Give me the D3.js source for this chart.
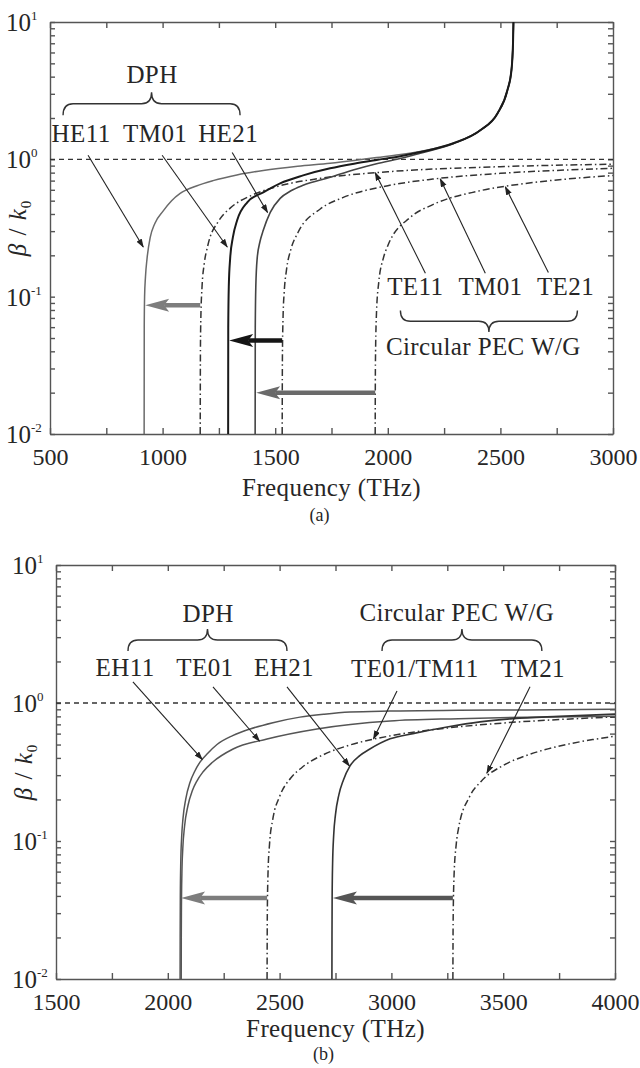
<!DOCTYPE html>
<html>
<head>
<meta charset="utf-8">
<script src="https://cdn.jsdelivr.net/npm/d3@7"></script>
<style>
body { margin: 0; background: #fff; }
text { font-family: "Liberation Serif", "DejaVu Serif", serif; fill: #262626; }
</style>
</head>
<body>
<svg id="chart" width="640" height="1068"></svg>
<script>
// ---- panel (a) : frequency (THz), beta/k0 ----
const dphHE11 = [[918,0.01],[918.5,0.06],[920,0.1],[924,0.14],[931,0.19],[945,0.27],[965,0.34],[1002,0.42],[1040,0.5],[1078,0.565],[1150,0.64],[1224,0.7],[1330,0.77],[1447,0.83],[1600,0.89],[1744,0.935],[1850,0.98],[1950,1.03],[2050,1.08],[2144,1.14],[2291,1.31],[2411,1.63],[2487,2.16],[2531,3.18],[2549,4.45],[2556,7],[2558,10]];
const dphTM01 = [[1291,0.01],[1291.5,0.06],[1294,0.12],[1300,0.19],[1312,0.27],[1331,0.36],[1376,0.486],[1447,0.575],[1522,0.669],[1624,0.764],[1744,0.86],[1850,0.93],[1950,0.99],[2050,1.05],[2144,1.13],[2291,1.31],[2411,1.63],[2487,2.16],[2531,3.18],[2549,4.45],[2556,7],[2558,10]];
const dphHE21 = [[1411,0.01],[1411.5,0.06],[1414,0.12],[1420,0.19],[1432,0.25],[1447,0.304],[1478,0.411],[1522,0.52],[1570,0.59],[1624,0.647],[1744,0.74],[1850,0.84],[1950,0.93],[2050,1.01],[2144,1.11],[2291,1.3],[2411,1.63],[2487,2.16],[2531,3.18],[2549,4.45],[2556,7],[2558,10]];
const pecTE11 = [[1167,0.01],[1168,0.041],[1170,0.072],[1175,0.117],[1185,0.174],[1200,0.233],[1250,0.358],[1300,0.441],[1400,0.551],[1500,0.628],[1700,0.727],[2000,0.812],[2500,0.884],[3000,0.921]];
const pecTM01 = [[1531,0.01],[1532,0.036],[1535,0.072],[1540,0.108],[1550,0.156],[1570,0.222],[1600,0.291],[1700,0.435],[1800,0.526],[2000,0.643],[2200,0.718],[2500,0.791],[2800,0.837],[3000,0.86]];
const pecTE21 = [[1944,0.01],[1945,0.032],[1950,0.078],[1960,0.128],[1980,0.19],[2000,0.235],[2100,0.378],[2200,0.468],[2400,0.586],[2600,0.664],[2800,0.72],[3000,0.762]];

// ---- panel (b) ----
const dphEH11 = [[2055,0.01],[2055.3,0.02],[2056,0.04],[2058,0.07],[2062,0.107],[2068,0.146],[2080,0.2],[2100,0.268],[2120,0.319],[2144,0.373],[2180,0.434],[2220,0.5],[2290,0.58],[2368,0.648],[2470,0.72],[2591,0.79],[2700,0.83],[2815,0.86],[2994,0.875],[3300,0.885],[3600,0.89],[4000,0.9]];
const dphTE01 = [[2060,0.01],[2060.3,0.02],[2061,0.033],[2063,0.058],[2067,0.088],[2075,0.128],[2090,0.18],[2110,0.232],[2130,0.272],[2157,0.316],[2200,0.372],[2292,0.464],[2444,0.548],[2667,0.648],[2994,0.74],[3300,0.77],[3600,0.79],[4000,0.8]];
const dphEH21 = [[2734,0.01],[2734.3,0.02],[2735,0.039],[2737,0.068],[2742,0.111],[2750,0.156],[2765,0.216],[2785,0.276],[2815,0.35],[2860,0.417],[2900,0.46],[2994,0.55],[3096,0.6],[3249,0.67],[3396,0.73],[3544,0.77],[3750,0.8],[4000,0.83]];
const pecTE01TM11 = [[2444,0.01],[2445,0.029],[2448,0.057],[2455,0.095],[2470,0.145],[2500,0.21],[2550,0.286],[2600,0.341],[2700,0.425],[2800,0.488],[3000,0.58],[3250,0.659],[3500,0.716],[3750,0.759],[4000,0.792]];
const pecTM21 = [[3275,0.01],[3276,0.025],[3280,0.055],[3290,0.095],[3300,0.123],[3350,0.21],[3400,0.269],[3500,0.353],[3600,0.415],[3700,0.465],[3800,0.507],[3900,0.543],[4000,0.574]];

const xTicksA = [500, 1000, 1500, 2000, 2500, 3000];
const xTicksB = [1500, 2000, 2500, 3000, 3500, 4000];
const yTickExps = [-2, -1, 0, 1];

// annotations in data units [freq, beta]
const pointersA = [
  [[669,1.07],[914,0.23]], [[998,1.07],[1287,0.23]], [[1309,1.12],[1466,0.41]],
  [[2167,0.148],[1944,0.8]], [[2433,0.148],[2233,0.72]], [[2713,0.15],[2522,0.63]]
];
const pointersB = [
  [[1844,1.42],[2154,0.39]], [[2202,1.31],[2410,0.53]], [[2533,1.31],[2812,0.35]],
  [[3025,1.22],[2920,0.55]], [[3620,1.31],[3427,0.31]]
];
// cutoff shift arrows: from PEC cutoff to DPH cutoff at beta
const shiftsA = [[1167,918,0.0865,"#7d7d7d"],[1531,1291,0.048,"#151515"],[1944,1411,0.02,"#6a6a6a"]];
const shiftsB = [[2444,2055,0.0386,"#7d7d7d"],[3275,2734,0.0386,"#555"]];
const labelsA = [["DPH",953,3.58],["HE11",638,1.33],["TM01",967,1.33],["HE21",1291,1.33],
  ["TE11",2122,0.1025],["TM01",2456,0.1025],["TE21",2789,0.1025],["Circular PEC W/G",2424,0.0373]];
const labelsB = [["DPH",2180,3.86],["EH11",1809,1.57],["TE01",2166,1.57],["EH21",2520,1.57],
  ["Circular PEC W/G",3293,3.93],["TE01/TM11",3105,1.54],["TM21",3633,1.54]];
// braces: [f1, f2, betaEnds, betaTip]
const bracesA = [[558,1344,2.09,3.08],[2056,2842,0.0794,0.0552]];
const bracesB = [[1822,2533,2.38,3.44],[2958,3673,2.38,3.44]];

const svg = d3.select("#chart");

const defs = svg.append("defs");
defs.append("marker").attr("id","tip").attr("markerUnits","userSpaceOnUse")
  .attr("markerWidth",9).attr("markerHeight",7).attr("refX",8).attr("refY",3)
  .attr("orient","auto")
  .append("path").attr("d","M0,0L9,3L0,6Z").attr("fill","#222");

function drawPanel(p) {
  const x = d3.scaleLinear().domain(p.xDomain).range([p.left, p.right]);
  const y = d3.scaleLog().domain([0.01, 10]).range([p.bottom, p.top]);
  const g = svg.append("g");

  defs.append("clipPath").attr("id", p.id + "clip")
    .append("rect").attr("x", p.left).attr("y", p.top)
    .attr("width", p.right - p.left).attr("height", p.bottom - p.top);

  const minor = [];
  for (let e = -2; e < 1; e++) for (let m = 1; m < 10; m++) minor.push(m * Math.pow(10, e));
  minor.push(10);
  const xMinor = d3.range(p.xDomain[0], p.xDomain[1] + 1, 250);

  const axStyle = sel => {
    sel.selectAll("path,line").attr("stroke", "#555").attr("stroke-width", 1.4);
  };
  g.append("g").attr("transform", `translate(0,${p.bottom})`)
    .call(d3.axisBottom(x).tickValues(xMinor).tickSizeInner(-6).tickSizeOuter(0).tickPadding(14)
      .tickFormat(d => p.xTicks.includes(d) ? d : ""))
    .call(axStyle)
    .call(s => s.selectAll("text").attr("font-size", 24).attr("font-family", "Liberation Serif").attr("fill", "#262626"));
  g.append("g").attr("transform", `translate(0,${p.top})`)
    .call(d3.axisTop(x).tickValues(xMinor).tickSizeInner(-6).tickSizeOuter(0).tickFormat(""))
    .call(axStyle);
  g.append("g").attr("transform", `translate(${p.left},0)`)
    .call(d3.axisLeft(y).tickValues(minor).tickSizeInner(-5).tickSizeOuter(0).tickFormat(""))
    .call(axStyle);
  g.append("g").attr("transform", `translate(${p.right},0)`)
    .call(d3.axisRight(y).tickValues(minor).tickSizeInner(-5).tickSizeOuter(0).tickFormat(""))
    .call(axStyle);

  // y tick labels 10^n
  yTickExps.forEach(e => {
    const t = g.append("text").attr("x", p.left - 44).attr("y", y(Math.pow(10, e)) + 9)
      .attr("font-size", 25);
    t.append("tspan").text("10");
    t.append("tspan").attr("dy", -11).attr("font-size", 13).text(e);
  });

  // axis titles
  g.append("text").attr("x", (p.left + p.right) / 2).attr("y", p.bottom + p.titleDy)
    .attr("text-anchor", "middle").attr("font-size", 25).attr("letter-spacing", 0.4).text("Frequency (THz)");
  g.append("text").attr("x", (p.left + p.right) / 2 - 12).attr("y", p.bottom + p.tagDy)
    .attr("text-anchor", "middle").attr("font-size", 18).text(p.tag);
  const yl = g.append("text").attr("transform", `translate(${p.left - 24},${(p.top + p.bottom) / 2}) rotate(-90)`)
    .attr("text-anchor", "middle").attr("font-size", 25).attr("letter-spacing", 1);
  yl.append("tspan").attr("font-style", "italic").text("β");
  yl.append("tspan").text(" / ");
  yl.append("tspan").attr("font-style", "italic").text("k");
  yl.append("tspan").attr("dy", 5).attr("font-size", 15).text("0");

  const plot = g.append("g").attr("clip-path", `url(#${p.id}clip)`);

  // reference line beta/k0 = 1
  plot.append("line").attr("x1", x(p.xDomain[0])).attr("x2", x(p.xDomain[1]))
    .attr("y1", y(1)).attr("y2", y(1))
    .attr("stroke", "#333").attr("stroke-width", 1.3).attr("stroke-dasharray", "5,4");

  const line = d3.line().x(d => x(d[0])).y(d => y(d[1])).curve(d3.curveMonotoneX);
  p.series.forEach(s => {
    plot.append("path").datum(s.data).attr("d", line).attr("fill", "none")
      .attr("stroke", s.color).attr("stroke-width", s.width)
      .attr("stroke-dasharray", s.dash ? "7,3,1.5,3" : null);
  });

  // cutoff shift arrows
  p.shifts.forEach(([f0, f1, b, col]) => {
    const x0 = x(f0), x1 = x(f1), yy = y(b);
    g.append("line").attr("x1", x0).attr("x2", x1 + 20).attr("y1", yy).attr("y2", yy)
      .attr("stroke", col).attr("stroke-width", 4.5);
    g.append("path").attr("d", `M${x1 + 1},${yy}L${x1 + 25},${yy - 6.5}L${x1 + 20},${yy}L${x1 + 25},${yy + 6.5}Z`)
      .attr("fill", col);
  });

  // pointers
  p.pointers.forEach(([a, b]) => {
    g.append("line").attr("x1", x(a[0])).attr("y1", y(a[1])).attr("x2", x(b[0])).attr("y2", y(b[1]))
      .attr("stroke", "#222").attr("stroke-width", 1.1).attr("marker-end", "url(#tip)");
  });

  // labels
  p.labels.forEach(([t, f, b]) => {
    g.append("text").attr("x", x(f)).attr("y", y(b)).attr("text-anchor", "middle")
      .attr("font-size", 25).attr("letter-spacing", 0.4).text(t);
  });

  // braces
  p.braces.forEach(([f1, f2, bEnd, bTip]) => {
    const x1 = x(f1), x2 = x(f2), xm = (x1 + x2) / 2, ye = y(bEnd), yt = y(bTip), ym = (ye + yt) / 2;
    const r = 10;
    const d = `M${x1},${ye}Q${x1},${ym} ${x1 + r},${ym}L${xm - r},${ym}Q${xm},${ym} ${xm},${yt}` +
      `Q${xm},${ym} ${xm + r},${ym}L${x2 - r},${ym}Q${x2},${ym} ${x2},${ye}`;
    g.append("path").attr("d", d).attr("fill", "none").attr("stroke", "#333").attr("stroke-width", 1.4);
  });
}

drawPanel({
  id: "a", tag: "(a)", xDomain: [500, 3000], xTicks: xTicksA,
  left: 50, right: 613, top: 22, bottom: 434, titleDy: 62, tagDy: 87,
  series: [
    { data: pecTE11, color: "#333", width: 1.5, dash: true },
    { data: pecTM01, color: "#333", width: 1.5, dash: true },
    { data: pecTE21, color: "#333", width: 1.5, dash: true },
    { data: dphHE11, color: "#6a6a6a", width: 1.5 },
    { data: dphHE21, color: "#444", width: 1.6 },
    { data: dphTM01, color: "#1a1a1a", width: 2 }
  ],
  shifts: shiftsA, pointers: pointersA, labels: labelsA, braces: bracesA
});

drawPanel({
  id: "b", tag: "(b)", xDomain: [1500, 4000], xTicks: xTicksB,
  left: 56, right: 615, top: 565, bottom: 979, titleDy: 58, tagDy: 81,
  series: [
    { data: pecTE01TM11, color: "#333", width: 1.5, dash: true },
    { data: pecTM21, color: "#333", width: 1.5, dash: true },
    { data: dphEH11, color: "#555", width: 1.5 },
    { data: dphTE01, color: "#555", width: 1.5 },
    { data: dphEH21, color: "#333", width: 1.6 }
  ],
  shifts: shiftsB, pointers: pointersB, labels: labelsB, braces: bracesB
});
</script>
</body>
</html>
